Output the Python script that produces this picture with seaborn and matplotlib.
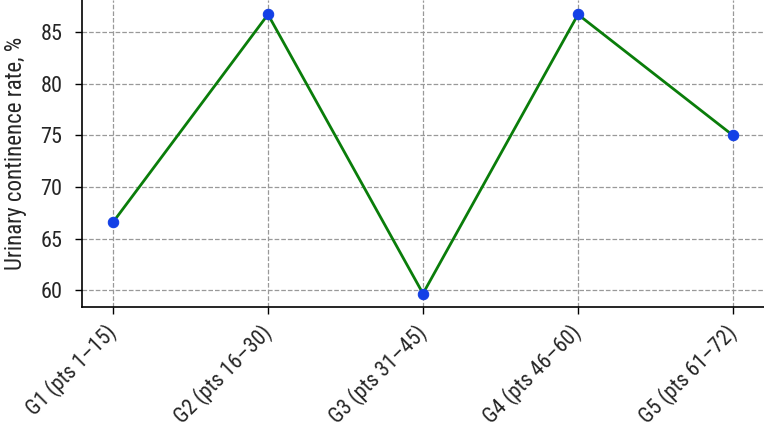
import matplotlib
matplotlib.use('Agg')
import matplotlib.pyplot as plt
import matplotlib.font_manager as fm
import seaborn as sns
import pandas as pd

groups = ['G1 (pts 1–15)', 'G2 (pts 16–30)', 'G3 (pts 31–45)',
          'G4 (pts 46–60)', 'G5 (pts 61–72)']
continence = [66.6, 86.7, 59.7, 86.7, 75.0]
y_ticks = [60, 65, 70, 75, 80, 85]

sns.set_style('white')
# prefer a narrow face if one is installed
names = {f.name for f in fm.fontManager.ttflist}
family = 'Roboto'
for cand in ['Roboto Condensed', 'Liberation Sans Narrow', 'Noto Sans Condensed',
             'Open Sans Condensed', 'DejaVu Sans Condensed']:
    if cand in names:
        family = cand
        break
plt.rcParams['font.family'] = [family, 'DejaVu Sans']

df = pd.DataFrame({'group': groups, 'rate': continence})
df['pos'] = range(len(df))

fig = plt.figure(figsize=(7.64, 4.30), dpi=100)
ax = fig.add_axes([0.1073, 0.286, 0.8927, 0.714])

sns.lineplot(data=df, x='pos', y='rate', color='#0a7d0a', linewidth=2, ax=ax,
             marker='o', markersize=7.5, markerfacecolor='#1340e6',
             markeredgecolor='#1340e6', zorder=3)

ax.set_xlim(-0.2, 4.2)
ax.set_ylim(58.4, 88.1)
ax.set_xticks(df['pos'])
ax.set_xticklabels(groups, rotation=45, ha='right', va='center',
                   rotation_mode='anchor', fontsize=15.5)
ax.set_yticks(y_ticks)
ax.tick_params(axis='y', labelsize=16, length=5, width=1, color='black', left=True, pad=9)
ax.tick_params(axis='x', length=5, width=1, color='black', bottom=True, pad=11)
ax.set_xlabel('')
ax.set_ylabel('Urinary continence rate, %', fontsize=16.5, labelpad=10)
ax.grid(True, linestyle='--', color='#999999', linewidth=0.9)
ax.set_axisbelow(True)
for side in ['top', 'right']:
    ax.spines[side].set_visible(False)
for side in ['left', 'bottom']:
    ax.spines[side].set_color('black')
    ax.spines[side].set_linewidth(1.2)

fig.savefig('out.png', dpi=100)
